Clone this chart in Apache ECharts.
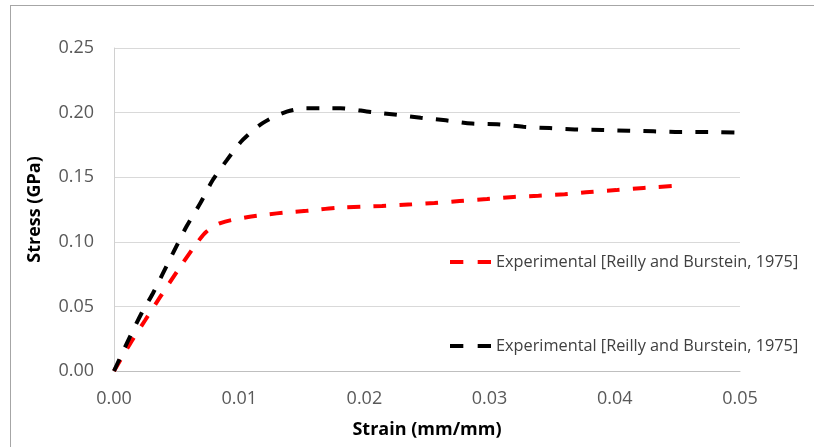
<!DOCTYPE html>
<html>
<head>
<meta charset="utf-8">
<script src="https://cdn.jsdelivr.net/npm/echarts@6/dist/echarts.min.js"></script>
<style>
  html, body { margin: 0; padding: 0; background: #fff; }
  #chart { width: 814px; height: 447px; }
</style>
</head>
<body>
<div id="chart"></div>
<script>
// data
const legendLabel = 'Experimental [Reilly and Burstein, 1975]';

const strainRed = [0, 0.0013, 0.0025, 0.0037, 0.0053, 0.0066, 0.0074, 0.0085, 0.0106, 0.0130,
  0.0154, 0.0181, 0.0214, 0.0235, 0.0256, 0.0276, 0.0298, 0.0319, 0.0339, 0.0360,
  0.0380, 0.0401, 0.0423, 0.0448];
const stressRed = [0, 0.0214, 0.0395, 0.0575, 0.0808, 0.0988, 0.108, 0.1145, 0.119, 0.122,
  0.124, 0.1265, 0.1277, 0.1288, 0.130, 0.1316, 0.1331, 0.1347, 0.1357, 0.1368,
  0.1386, 0.140, 0.1417, 0.1433];

const strainBlack = [0, 0.0009, 0.0022, 0.0031, 0.0047, 0.0058, 0.0069, 0.0079, 0.0090, 0.0103,
  0.0119, 0.0138, 0.0154, 0.0181, 0.0205, 0.0224, 0.0245, 0.0265, 0.0286, 0.0306,
  0.0327, 0.0348, 0.0368, 0.0390, 0.0411, 0.0431, 0.0452, 0.0473, 0.0500];
const stressBlack = [0, 0.0188, 0.0447, 0.060, 0.091, 0.112, 0.130, 0.148, 0.163, 0.179,
  0.192, 0.2007, 0.2033, 0.2033, 0.2005, 0.1985, 0.196, 0.194, 0.1915, 0.191,
  0.189, 0.188, 0.187, 0.1865, 0.186, 0.1855, 0.185, 0.185, 0.1845];

const xTicks = [0, 0.01, 0.02, 0.03, 0.04, 0.05];
const yTicks = [0, 0.05, 0.10, 0.15, 0.20, 0.25];

const pairs = (xs, ys) => xs.map((x, i) => [x, ys[i]]);

// two short dashes, like the Excel legend key
const dashIcon = 'path://M0,0 H13 V4 H0 Z M27,0 H40 V4 H27 Z';

const chart = echarts.init(document.getElementById('chart'));

const legendBase = {
  orient: 'vertical',
  left: 450,
  padding: 0,
  itemWidth: 41,
  itemHeight: 14,
  formatter: () => legendLabel,
  textStyle: { fontFamily: 'Open Sans', fontSize: 16.3, color: '#404040' }
};

chart.setOption({
  animation: false,
  grid: { left: 114, right: 74, top: 48, bottom: 76 },
  graphic: [
    { type: 'line', shape: { x1: 10.5, y1: 5, x2: 10.5, y2: 447 }, style: { stroke: '#a6a6a6', lineWidth: 1 } },
    { type: 'line', shape: { x1: 10, y1: 5.5, x2: 814, y2: 5.5 }, style: { stroke: '#a6a6a6', lineWidth: 1 } }
  ],
  legend: [
    Object.assign({}, legendBase, { data: [{ name: 'red', icon: dashIcon }], top: 254 }),
    Object.assign({}, legendBase, { data: [{ name: 'black', icon: dashIcon }], top: 338 })
  ],
  xAxis: {
    type: 'value',
    min: xTicks[0],
    max: xTicks[xTicks.length - 1],
    interval: 0.01,
    name: 'Strain (mm/mm)',
    nameLocation: 'middle',
    nameGap: 50,
    nameTextStyle: { fontFamily: 'Open Sans', fontSize: 18, fontWeight: 'bold', color: '#000' },
    axisLine: { lineStyle: { color: '#bfbfbf', width: 1 } },
    axisTick: { show: false },
    splitLine: { show: false },
    axisLabel: {
      margin: 19,
      fontFamily: 'Open Sans', fontSize: 18, color: '#595959',
      formatter: v => v.toFixed(2)
    }
  },
  yAxis: {
    type: 'value',
    min: yTicks[0],
    max: yTicks[yTicks.length - 1],
    interval: 0.05,
    name: 'Stress (GPa)',
    nameLocation: 'middle',
    nameGap: 70,
    nameTextStyle: { fontFamily: 'Open Sans', fontSize: 18, fontWeight: 'bold', color: '#000' },
    axisLine: { show: true, lineStyle: { color: '#d0d0d0', width: 1 } },
    axisTick: { show: false },
    splitLine: { lineStyle: { color: '#d9d9d9', width: 1 } },
    axisLabel: {
      margin: 20,
      fontFamily: 'Open Sans', fontSize: 18, color: '#595959',
      formatter: v => v.toFixed(2)
    }
  },
  series: [
    {
      name: 'red',
      type: 'line',
      symbol: 'none',
      smooth: 0.3,
      data: pairs(strainRed, stressRed),
      itemStyle: { color: '#ff0000' },
      lineStyle: { color: '#ff0000', width: 4, type: [13, 13] }
    },
    {
      name: 'black',
      type: 'line',
      symbol: 'none',
      smooth: 0.3,
      data: pairs(strainBlack, stressBlack),
      itemStyle: { color: '#000000' },
      lineStyle: { color: '#000000', width: 4, type: [13, 13] }
    }
  ]
});
</script>
</body>
</html>
